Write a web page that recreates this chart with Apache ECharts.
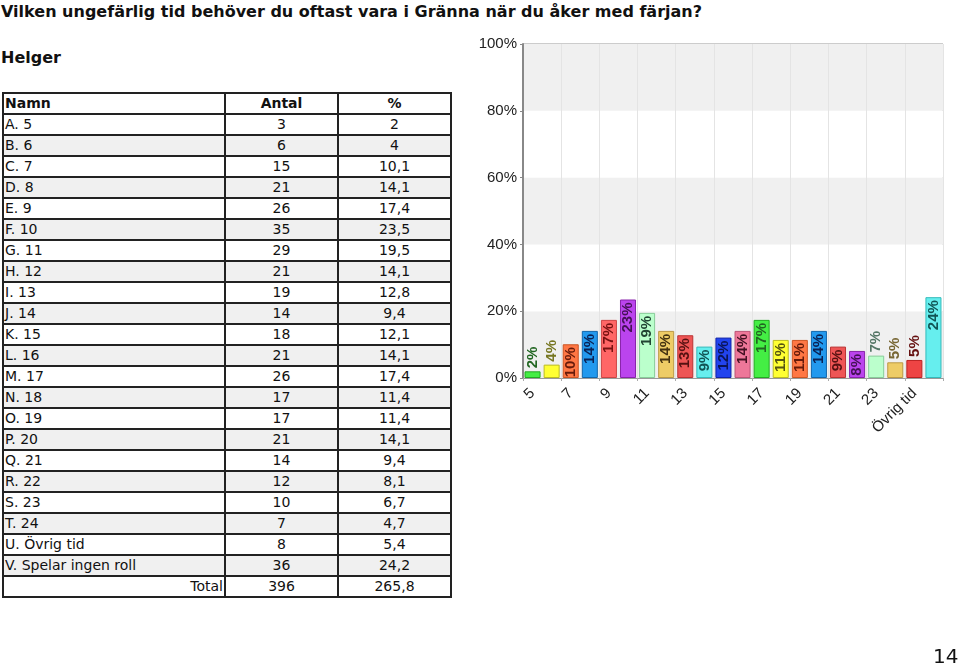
<!DOCTYPE html>
<html>
<head>
<meta charset="utf-8">
<script src="https://cdn.jsdelivr.net/npm/echarts@6/dist/echarts.min.js"></script>
<style>
  html, body { margin: 0; padding: 0; background: #fff; width: 960px; height: 667px; overflow: hidden; }
  #title { position: absolute; left: 1px; top: 2px; font: bold 16px "DejaVu Sans", Verdana, sans-serif; color: #111; white-space: nowrap; }
  #sub { position: absolute; left: 1px; top: 48px; font: bold 16px "DejaVu Sans", Verdana, sans-serif; color: #111; }
  #tbl { position: absolute; left: 2px; top: 92px; border-collapse: collapse; font: 14px "DejaVu Sans", Verdana, sans-serif; color: #111; }
  #tbl td, #tbl th { border: 2px solid #222; height: 19px; padding: 0 1px; line-height: 19px; }
  #tbl th { font-weight: bold; }
  #tbl tr.g td { background: #f0f0f0; }
  #chart { position: absolute; left: 460px; top: 0; width: 500px; height: 667px; }
  #page { position: absolute; left: 933px; top: 644px; font: 20px "DejaVu Sans", Verdana, sans-serif; color: #111; }
</style>
</head>
<body>
<div id="title">Vilken ungefärlig tid behöver du oftast vara i Gränna när du åker med färjan?</div>
<div id="sub">Helger</div>
<table id="tbl"></table>
<div id="chart"></div>
<div id="page">14</div>
<script>
// ---- data ----
const categories = ["5","6","7","8","9","10","11","12","13","14","15","16","17","18","19","20","21","22","23","24","Övrig tid","Spelar ingen roll"];
const letters = ["A","B","C","D","E","F","G","H","I","J","K","L","M","N","O","P","Q","R","S","T","U","V"];
const antal = [3,6,15,21,26,35,29,21,19,14,18,21,26,17,17,21,14,12,10,7,8,36];
const procent = [2,4,10.1,14.1,17.4,23.5,19.5,14.1,12.8,9.4,12.1,14.1,17.4,11.4,11.4,14.1,9.4,8.1,6.7,4.7,5.4,24.2];
const procentText = ["2","4","10,1","14,1","17,4","23,5","19,5","14,1","12,8","9,4","12,1","14,1","17,4","11,4","11,4","14,1","9,4","8,1","6,7","4,7","5,4","24,2"];
const barLabels = ["2%","4%","10%","14%","17%","23%","19%","14%","13%","9%","12%","14%","17%","11%","11%","14%","9%","8%","7%","5%","5%","24%"];
const totalAntal = "396";
const totalProcent = "265,8";
const yTicks = [0,20,40,60,80,100];

// ---- styles ----
const barColors = ["#44ee44","#ffff33","#ff7744","#2299ee","#ff6666","#bb44ee","#bbffcc","#eecc66","#ee5555","#66eeee","#2244ee","#ee7799",
                   "#44ee44","#ffff33","#ff7744","#2299ee","#ee5555","#bb44ee","#bbffcc","#eecc66","#ee4444","#66eeee"];
const borderColors = ["#22aa22","#bbbb22","#cc5522","#1166aa","#cc4444","#8822aa","#88cc99","#bb9944","#bb3333","#33bbbb","#1122aa","#bb5577",
                      "#22aa22","#bbbb22","#cc5522","#1166aa","#bb3333","#8822aa","#88cc99","#bb9944","#bb2222","#33bbbb"];
const labelColors = ["#226622","#777722","#661a0a","#0a2255","#771111","#441155","#224433","#443311","#551111","#115555","#0a1455","#441122",
                     "#226622","#555511","#661a0a","#0a2255","#551111","#441155","#557766","#776633","#661111","#115555"];

// ---- table ----
const tbl = document.getElementById('tbl');
let html = '<tr><th style="width:218px;text-align:left">Namn</th><th style="width:109px">Antal</th><th style="width:109px">%</th></tr>';
categories.forEach((c, i) => {
  html += '<tr class="' + (i % 2 === 1 ? 'g' : '') + '"><td>' + letters[i] + '. ' + c + '</td><td style="text-align:center">' + antal[i] +
          '</td><td style="text-align:center">' + procentText[i] + '</td></tr>';
});
html += '<tr><td style="text-align:right">Total</td><td style="text-align:center">' + totalAntal + '</td><td style="text-align:center">' + totalProcent + '</td></tr>';
tbl.innerHTML = html;

// ---- chart ----
const chart = echarts.init(document.getElementById('chart'), null, { renderer: 'canvas' });
const seriesData = procent.map((v, i) => ({
  value: v,
  itemStyle: { color: barColors[i], borderColor: borderColors[i], borderWidth: 1 },
  label: v < 7.5
    ? { position: 'top', align: 'left', verticalAlign: 'middle', color: labelColors[i] }
    : { position: 'insideTop', align: 'right', verticalAlign: 'middle', color: labelColors[i] }
}));
chart.setOption({
  animation: false,
  grid: { left: 63, right: 17, top: 44, bottom: 289, show: true, borderColor: '#999', borderWidth: 1, backgroundColor: 'transparent' },
  xAxis: {
    type: 'category',
    data: categories,
    boundaryGap: true,
    axisLine: { lineStyle: { color: '#999', width: 1 } },
    axisTick: { show: true, length: 3, lineStyle: { color: '#aaa' } },
    splitLine: { show: true, lineStyle: { color: '#e4e4e4', width: 1 } },
    axisLabel: { interval: 1, rotate: 45, fontFamily: 'Liberation Sans, Arial', fontSize: 15, color: '#222', margin: 13 }
  },
  yAxis: {
    type: 'value',
    min: yTicks[0], max: yTicks[yTicks.length - 1], interval: 20,
    axisLine: { show: true, lineStyle: { color: '#888', width: 2 } },
    axisTick: { show: true, length: 3, lineStyle: { color: '#888' } },
    axisLabel: { formatter: '{value}%', fontFamily: 'Liberation Sans, Arial', fontSize: 15, color: '#222', margin: 6 },
    splitLine: { show: false },
    splitArea: { show: true, areaStyle: { color: ['#f0f0f0', '#ffffff'] } }
  },
  series: [{
    type: 'bar',
    data: seriesData,
    barCategoryGap: '16%',
    label: {
      show: true, rotate: 90, distance: 3,
      formatter: p => barLabels[p.dataIndex],
      fontFamily: 'Liberation Sans, Arial', fontWeight: 'bold', fontSize: 15
    }
  }]
});
</script>
</body>
</html>
